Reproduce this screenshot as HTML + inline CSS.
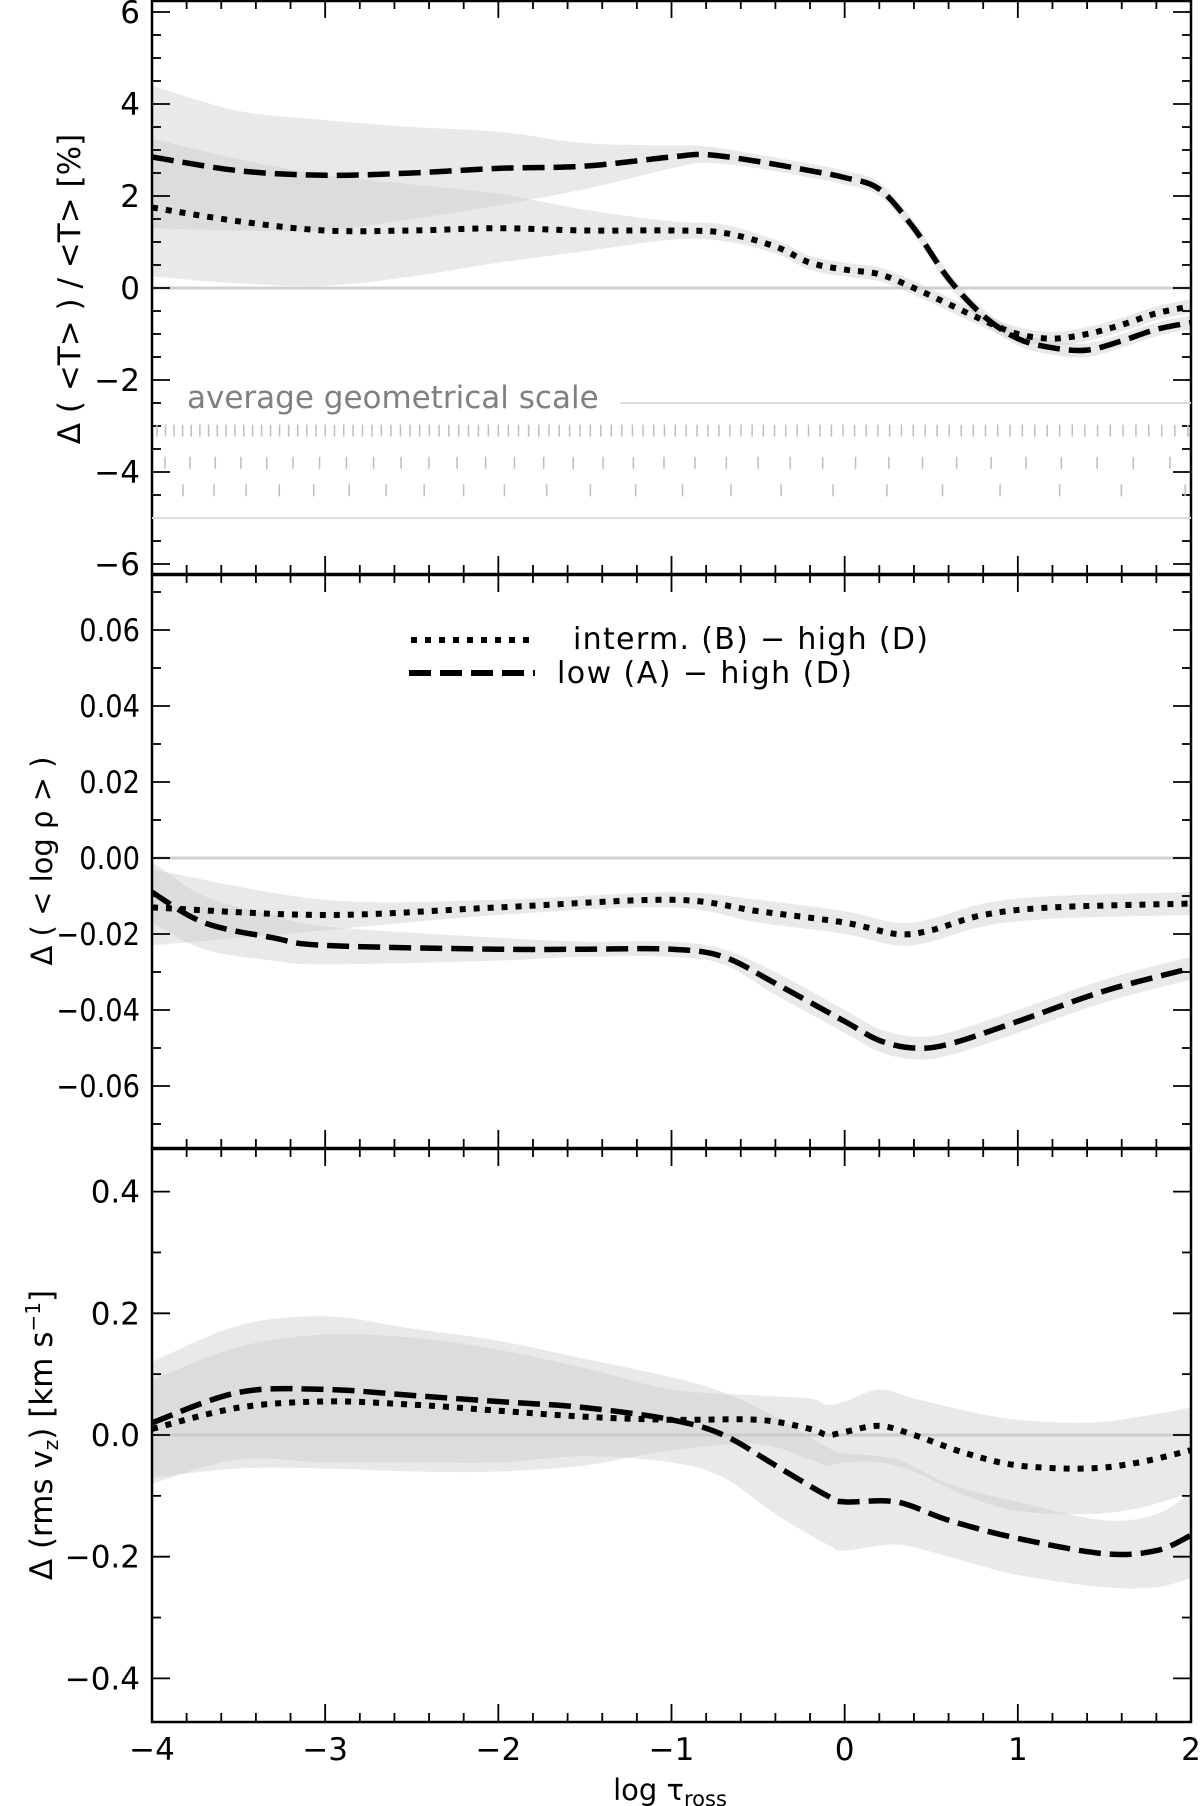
<!DOCTYPE html>
<html><head><meta charset="utf-8"><style>
html,body{margin:0;padding:0;background:#fff;width:1200px;height:1806px;overflow:hidden}
svg text{font-family:"DejaVu Sans","Liberation Sans",sans-serif;fill:#000}
</style></head><body>
<svg id="chart" width="1200" height="1806" viewBox="0 0 1200 1806" xmlns="http://www.w3.org/2000/svg"></svg>
<script>
// ---- data ----
const topDashX = [-4,-3.5,-3,-2.5,-2,-1.5,-1,-0.8,-0.5,-0.2,0,0.2,0.4,0.6,0.8,1.0,1.2,1.4,1.6,1.8,2];
const topDashY = [2.85,2.55,2.45,2.5,2.6,2.65,2.85,2.9,2.75,2.55,2.4,2.15,1.3,0.2,-0.6,-1.1,-1.3,-1.35,-1.15,-0.9,-0.75];
const topDashSd = [1.55,1.3,1.2,1.0,0.8,0.5,0.25,0.18,0.15,0.15,0.15,0.15,0.15,0.15,0.15,0.15,0.15,0.15,0.15,0.15,0.15];
const topDotX = [-4,-3.5,-3,-2.5,-2,-1.5,-1,-0.7,-0.4,-0.2,0,0.2,0.4,0.6,0.8,1.0,1.2,1.4,1.6,1.8,2];
const topDotY = [1.75,1.45,1.25,1.25,1.3,1.25,1.25,1.2,0.9,0.55,0.4,0.3,0,-0.35,-0.7,-1.0,-1.1,-1.0,-0.8,-0.55,-0.4];
const topDotSd = [1.5,1.35,1.2,1.0,0.75,0.45,0.2,0.18,0.15,0.15,0.15,0.15,0.15,0.15,0.15,0.15,0.15,0.15,0.15,0.15,0.15];

const midDotX = [-4,-3,-2,-1,-0.5,0,0.3,0.5,0.8,1.2,2];
const midDotY = [-0.013,-0.015,-0.013,-0.011,-0.014,-0.017,-0.02,-0.019,-0.015,-0.013,-0.012];
const midDotSd = [0.01,0.004,0.002,0.002,0.003,0.003,0.003,0.003,0.003,0.003,0.003];
const midDashX = [-4,-3.7,-3.3,-3,-2,-1.5,-1,-0.7,-0.4,0,0.2,0.4,0.6,1,1.5,2];
const midDashY = [-0.009,-0.017,-0.021,-0.023,-0.024,-0.024,-0.024,-0.026,-0.033,-0.043,-0.048,-0.05,-0.049,-0.043,-0.035,-0.029];
const midDashSd = [0.008,0.007,0.006,0.005,0.003,0.002,0.002,0.002,0.003,0.003,0.003,0.003,0.003,0.003,0.003,0.003];

const botDotX = [-4,-3.5,-3,-2.5,-2,-1.5,-1,-0.5,-0.2,-0.1,0,0.2,0.4,0.7,1,1.4,1.7,2];
const botDotY = [0.01,0.045,0.055,0.05,0.04,0.03,0.025,0.025,0.01,0.0,0.005,0.015,0.0,-0.03,-0.05,-0.055,-0.045,-0.025];
const botDotSd = [0.08,0.1,0.11,0.11,0.1,0.08,0.05,0.04,0.05,0.05,0.05,0.06,0.06,0.07,0.075,0.075,0.075,0.07];
const botDashX = [-4,-3.5,-3,-2.5,-2,-1.5,-1,-0.7,-0.4,-0.1,0,0.3,0.6,1,1.5,1.8,2];
const botDashY = [0.02,0.07,0.075,0.065,0.055,0.045,0.025,0.0,-0.05,-0.1,-0.11,-0.11,-0.14,-0.17,-0.195,-0.19,-0.165];
const botDashSd = [0.1,0.11,0.12,0.11,0.1,0.08,0.07,0.07,0.08,0.08,0.08,0.07,0.06,0.06,0.055,0.06,0.07];

const xTicks = [-4,-3,-2,-1,0,1,2];
const topTicks = [6,4,2,0,-2,-4,-6];
const midTicks = [0.06,0.04,0.02,0.00,-0.02,-0.04,-0.06];
const botTicks = [0.4,0.2,0.0,-0.2,-0.4];

// ---- layout ----
const L=152,R=1191;
const sx=v=>L+(v+4)*(R-L)/6;
const panels=[
 {top:0,bot:574,y:v=>288-v*46,min:-6.25,max:6.25,ticks:topTicks,minor:0.5,squeeze:1,fmt:v=>(v<0?'−':'')+Math.abs(v),name:'temperature-panel'},
 {top:574,bot:1148,y:v=>858-v*3800,min:-0.0763,max:0.0747,ticks:midTicks,minor:0.01,squeeze:0.88,fmt:v=>(v<0?'−':'')+Math.abs(v).toFixed(2),name:'density-panel'},
 {top:1148,bot:1722,y:v=>1435-v*608.5,min:-0.47,max:0.47,ticks:botTicks,minor:0.1,squeeze:1,fmt:v=>(v<0?'−':'')+Math.abs(v).toFixed(1),name:'velocity-panel'}
];
const svg=document.getElementById('chart');
const NS='http://www.w3.org/2000/svg';
function mk(tag,attrs,parent){const e=document.createElementNS(NS,tag);for(const k in attrs)e.setAttribute(k,attrs[k]);(parent||svg).appendChild(e);return e;}
function smooth(pts){
 let d='M'+pts[0][0].toFixed(1)+','+pts[0][1].toFixed(1);
 for(let i=0;i<pts.length-1;i++){
  const p0=pts[Math.max(0,i-1)],p1=pts[i],p2=pts[i+1],p3=pts[Math.min(pts.length-1,i+2)];
  const c1=[p1[0]+(p2[0]-p0[0])/6,p1[1]+(p2[1]-p0[1])/6];
  const c2=[p2[0]-(p3[0]-p1[0])/6,p2[1]-(p3[1]-p1[1])/6];
  d+=' C'+c1[0].toFixed(1)+','+c1[1].toFixed(1)+' '+c2[0].toFixed(1)+','+c2[1].toFixed(1)+' '+p2[0].toFixed(1)+','+p2[1].toFixed(1);
 }
 return d;
}
function band(g,p,xs,ys,sd,name){
 const up=xs.map((x,i)=>[sx(x),p.y(ys[i]+sd[i])]);
 const lo=xs.map((x,i)=>[sx(x),p.y(ys[i]-sd[i])]).reverse();
 const d=smooth(up)+' L'+smooth(lo).slice(1)+' Z';
 const e=mk('path',{d:d,fill:'#c8c8c8','fill-opacity':'0.4',stroke:'none'},g);
 
 
}
function line(g,p,xs,ys,dashed,name){
 const pts=xs.map((x,i)=>[sx(x),p.y(ys[i])]);
 const e=mk('path',{d:smooth(pts),fill:'none',stroke:'#000','stroke-width':dashed?5.5:6,'stroke-dasharray':dashed?'22,9':'6,8'},g);
 
 
}
const series=[
 [topDashX,topDashY,topDashSd,topDotX,topDotY,topDotSd],
 [midDashX,midDashY,midDashSd,midDotX,midDotY,midDotSd],
 [botDashX,botDashY,botDashSd,botDotX,botDotY,botDotSd]
];
const defs=mk('defs',{});
panels.forEach((p,k)=>{
 const cp=mk('clipPath',{id:'c'+k},defs);mk('rect',{x:L,y:p.top,width:R-L,height:p.bot-p.top},cp);
 const g=mk('g',{'clip-path':'url(#c'+k+')'});
 
 
 const zl=mk('line',{x1:L,x2:R,y1:p.y(0),y2:p.y(0),stroke:'#d0d0d0','stroke-width':3},g);
 
 
 const s=series[k];
 band(g,p,s[0],s[1],s[2],'band-low-minus-high');
 band(g,p,s[3],s[4],s[5],'band-interm-minus-high');
 line(g,p,s[3],s[4],false,'line-interm-minus-high');
 line(g,p,s[0],s[1],true,'line-low-minus-high');
 const fr=mk('rect',{x:L,y:p.top+1,width:R-L,height:p.bot-p.top-1,fill:'none',stroke:'#000','stroke-width':2.5});
 
 
 for(let v=-4;v<=2.001;v+=0.2){
  const maj=Math.abs(v-Math.round(v))<0.01,len=maj?18:9,x=sx(v);
  mk('line',{x1:x,x2:x,y1:p.bot,y2:p.bot-len,stroke:'#000','stroke-width':1.8});
  mk('line',{x1:x,x2:x,y1:p.top,y2:p.top+len,stroke:'#000','stroke-width':1.8});
 }
 const n0=Math.ceil(p.min/p.minor-1e-6),n1=Math.floor(p.max/p.minor+1e-6);
 for(let n=n0;n<=n1;n++){
  const v=n*p.minor,y=p.y(v);
  const maj=p.ticks.some(t=>Math.abs(t-v)<1e-6),len=maj?18:9;
  mk('line',{x1:L,x2:L+len,y1:y,y2:y,stroke:'#000','stroke-width':1.8});
  mk('line',{x1:R,x2:R-len,y1:y,y2:y,stroke:'#000','stroke-width':1.8});
 }
 p.ticks.forEach(v=>{
  const t=mk('text',{x:140,y:p.y(v)+11,'text-anchor':'end','font-size':31});
  t.textContent=p.fmt(v);
  
  
  if(p.squeeze!==1){t.setAttribute('textLength',(t.getComputedTextLength()*p.squeeze).toFixed(1));t.setAttribute('lengthAdjust','spacingAndGlyphs');}
 });
});
// geometrical scale
const gs=mk('text',{x:187,y:408,'font-size':31,style:'fill:#808080'});gs.textContent='average geometrical scale';


mk('line',{x1:620,x2:R,y1:panels[0].y(-2.5),y2:panels[0].y(-2.5),stroke:'#dcdcdc','stroke-width':2});
mk('line',{x1:L,x2:R,y1:panels[0].y(-5),y2:panels[0].y(-5),stroke:'#dcdcdc','stroke-width':2});
[[-3.1,157,8.5,1.0045],[-3.8,165,25,1.012],[-4.4,183,31,1.035]].forEach(r=>{
 let x=r[1],s=r[2];const y=panels[0].y(r[0]);
 while(x<R-3){mk('line',{x1:x,x2:x,y1:y-6,y2:y+6,stroke:'#bdbdbd','stroke-width':1.5});x+=s;s*=r[3];}
});
xTicks.forEach(v=>{
 const t=mk('text',{x:sx(v),y:1760,'text-anchor':'middle','font-size':31});
 t.textContent=(v<0?'−':'')+Math.abs(v);
 
 
});
const xt=mk('text',{x:670,y:1800,'text-anchor':'middle','font-size':29});
xt.innerHTML='log τ<tspan font-size="21" dy="6">ross</tspan>';


const yt=[['Δ ( &lt;T&gt; ) / &lt;T&gt;  [%]',80,289,31,'y-axis-title-temperature'],['Δ ( &lt; log ρ &gt; )',52,861,29,'y-axis-title-density'],['Δ (rms v<tspan font-size="20" dy="6">z</tspan><tspan dy="-6">) [km s</tspan><tspan font-size="20" dy="-12">−1</tspan><tspan dy="12">]</tspan>',52,1435,31,'y-axis-title-velocity']];
yt.forEach(a=>{
 const t=mk('text',{x:0,y:0,'text-anchor':'middle','font-size':a[3],transform:'translate('+a[1]+','+a[2]+') rotate(-90)'});
 t.setAttribute('xml:space','preserve');
 t.innerHTML=a[0];
 
 
});
const lg=mk('g',{});


const l1=mk('line',{x1:411,x2:535,y1:640,y2:640,stroke:'#000','stroke-width':6,'stroke-dasharray':'6,8'},lg);


const l2=mk('line',{x1:409,x2:535,y1:673,y2:673,stroke:'#000','stroke-width':6,'stroke-dasharray':'22,9'},lg);


const t1=mk('text',{x:573,y:649,'font-size':30,textLength:355,lengthAdjust:'spacing'},lg);t1.setAttribute('xml:space','preserve');t1.textContent='interm.  (B)  −  high (D)';


const t2=mk('text',{x:557,y:683,'font-size':30,textLength:295,lengthAdjust:'spacing'},lg);t2.setAttribute('xml:space','preserve');t2.textContent='low (A)  −  high (D)';


</script>
</body></html>
